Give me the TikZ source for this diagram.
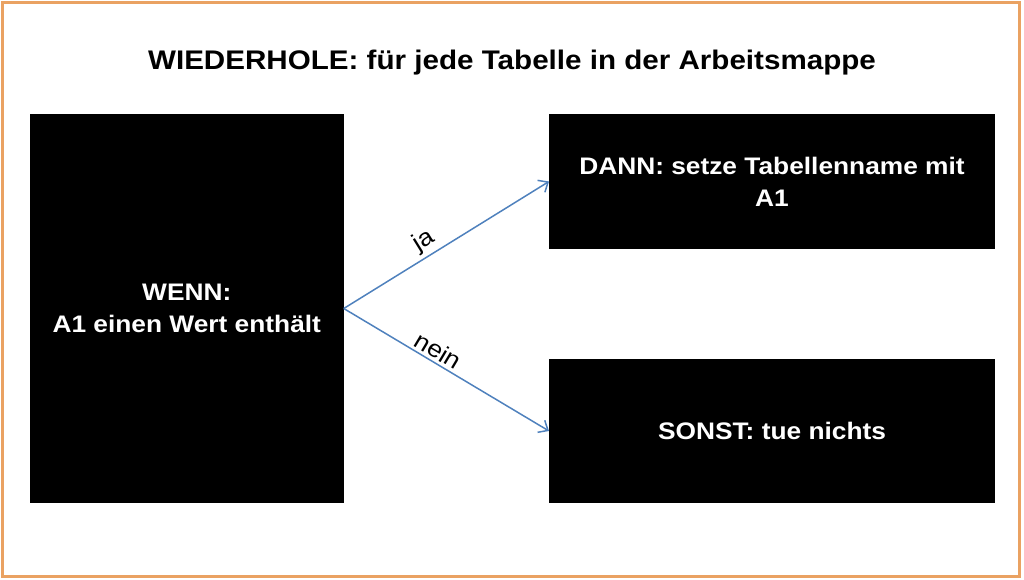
\documentclass[tikz,border=0pt]{standalone}
\usepackage{fontspec}
\setmainfont{Liberation Sans}[FakeStretch=1.1]
\usetikzlibrary{arrows.meta, positioning}
\definecolor{frameorange}{RGB}{234,162,98}
\definecolor{arrowblue}{RGB}{79,129,189}
\tikzset{
	font = \fontsize{24}{32}\selectfont\bfseries,
	box/.style={
		fill=black,
		text=white,
		align=center,
		inner sep=0pt,
		outer sep=0pt
	},
	flow/.style={
		-{Straight Barb[length=8bp, width=14bp]},
		draw=arrowblue,
		line width=1.5bp
	},
	answer/.style={
		sloped,
		above,
		inner sep=3bp,
		font=\fontsize{24}{28}\selectfont\mdseries
	}
}

\begin{document}
\begin{tikzpicture}[x=1bp, y=-1bp]
	\useasboundingbox (0,0) rectangle (1024,580);
	\draw[frameorange, line width=3bp] (2.5,3) rectangle (1019.5,576.5);

	\node[anchor=base, font=\fontsize{27}{32}\selectfont\bfseries] (title) at (512,70) {WIEDERHOLE: für jede Tabelle in der Arbeitsmappe};

	\node[box, minimum width=314bp, minimum height=389bp] (wenn) at (186.75,308.5) {WENN:\\A1 einen Wert enthält};
	\node[box, minimum width=446bp, minimum height=135bp] (dann) at (772,181.5) {DANN: setze Tabellenname mit\\A1};
	\node[box, minimum width=446bp, minimum height=144bp] (sonst) at (772,431) {SONST: tue nichts};

	\draw[flow] (wenn.east) -- node[answer, pos=0.43] {ja} (dann.west);
	\draw[flow] (wenn.east) -- node[answer, pos=0.43] {nein} (sonst.west);
\end{tikzpicture}
\end{document}
